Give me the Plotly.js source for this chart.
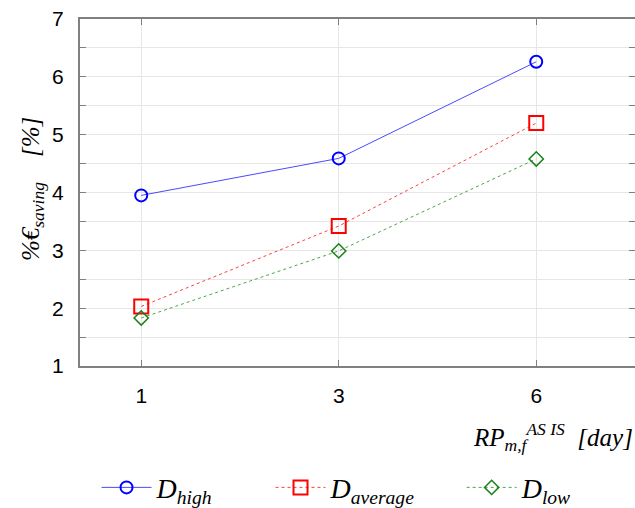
<!DOCTYPE html>
<html><head><meta charset="utf-8">
<script src="https://cdn.plot.ly/plotly-3.0.1.min.js"></script>
<style>html,body{margin:0;padding:0;background:#fff}#c{width:635px;height:508px}</style>
</head><body><div id="c"></div>
<script>
const categories = ['1', '3', '6'];
const dHigh = [3.95, 4.59, 6.26];
const dAverage = [2.03, 3.42, 5.20];
const dLow = [1.83, 2.99, 4.58];
const yTicks = [1, 2, 3, 4, 5, 6, 7];

const serif = 'Liberation Serif';
const traces = [
  {x: categories, y: dHigh, mode: 'lines+markers', name: '<i>D</i><sub><i>high</i></sub>', legend: 'legend',
   line: {color: '#4a4aff', width: 1}, marker: {symbol: 'circle-open', size: 12, color: '#0000ff', line: {width: 2, color: '#0000ff'}}},
  {x: categories, y: dAverage, mode: 'lines+markers', name: '<i>D</i><sub><i>average</i></sub>', legend: 'legend2',
   line: {color: '#ff4040', width: 1, dash: 'dot'}, marker: {symbol: 'square-open', size: 14, color: '#ff0000', line: {width: 2, color: '#ff0000'}}},
  {x: categories, y: dLow, mode: 'lines+markers', name: '<i>D</i><sub><i>low</i></sub>', legend: 'legend3',
   line: {color: '#4aa84a', width: 1, dash: 'dot'}, marker: {symbol: 'diamond-open', size: 11, color: '#1a801a', line: {width: 1.5, color: '#1a801a'}}},
  {x: [], y: [], yaxis: 'y2', showlegend: false, hoverinfo: 'skip'}
];

const legBase = {orientation: 'h', xref: 'container', yref: 'container', yanchor: 'middle', xanchor: 'left',
  y: 0.04, bgcolor: 'rgba(0,0,0,0)', font: {family: serif, size: 28, color: '#000'}, itemwidth: 50};

const layout = {
  width: 635, height: 508,
  margin: {l: 80, r: 0, t: 19, b: 142},
  paper_bgcolor: '#fff', plot_bgcolor: '#fff',
  xaxis: {type: 'category', range: [-0.31, 2.5], showline: true, linecolor: '#808080', linewidth: 2, mirror: 'ticks',
    ticks: 'inside', ticklen: 6, tickcolor: '#808080', showgrid: true, gridcolor: '#e6e6e6', gridwidth: 1,
    tickfont: {family: 'Liberation Sans', size: 21, color: '#000'}, zeroline: false, ticklabelstandoff: 10},
  yaxis: {range: [1, 7], tickvals: yTicks, showline: true, linecolor: '#808080', linewidth: 2,
    ticks: 'inside', ticklen: 6, tickcolor: '#808080', showgrid: true, gridcolor: '#e6e6e6', gridwidth: 1,
    minor: {dtick: 0.5, showgrid: true, gridcolor: '#e6e6e6', ticks: 'inside', ticklen: 6, tickcolor: '#808080'},
    tickfont: {family: 'Liberation Sans', size: 21, color: '#000'}, zeroline: false, ticklabelstandoff: 10},
  yaxis2: {overlaying: 'y', side: 'right', range: [1, 7], dtick: 0.5, ticks: 'inside', ticklen: 6, tickcolor: '#808080',
    showticklabels: false, showgrid: false, showline: false, zeroline: false},
  showlegend: true,
  legend: Object.assign({}, legBase, {x: 0.152}),
  legend2: Object.assign({}, legBase, {x: 0.426}),
  legend3: Object.assign({}, legBase, {x: 0.727}),
  annotations: [
    {xref: 'paper', yref: 'paper', x: -0.118, y: 0.51, textangle: -90, showarrow: false,
     text: '<i>%€</i><sub><i>saving</i></sub>    <i>[%]</i>', font: {family: serif, size: 25, color: '#000'}},
    {xref: 'paper', yref: 'paper', x: 1.0, xanchor: 'right', y: -0.205, yanchor: 'middle', showarrow: false,
     text: '<i>RP</i><sub><i>m,f</i></sub><sup><i>AS IS</i></sup>  <i>[day]</i>', font: {family: serif, size: 25, color: '#000'}}
  ]
};
Plotly.newPlot('c', traces, layout, {displayModeBar: false, staticPlot: true});
</script></body></html>
